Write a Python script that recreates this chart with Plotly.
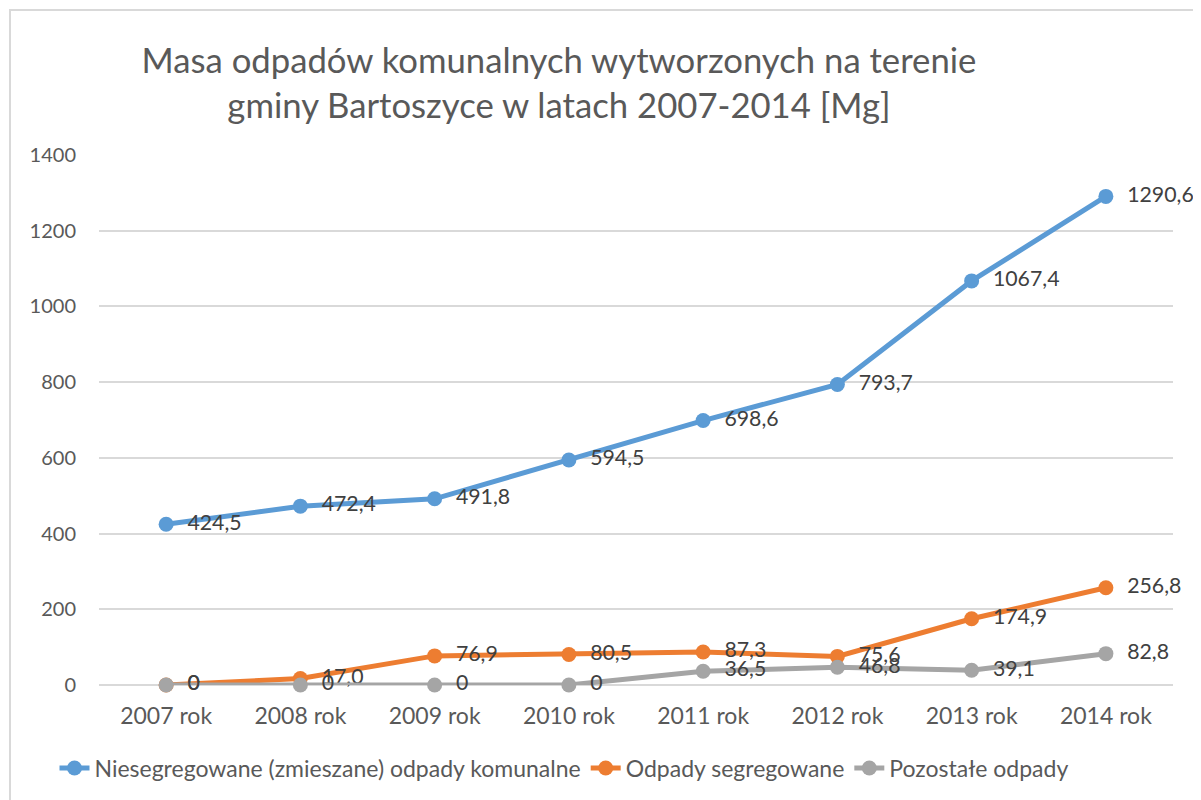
import plotly.graph_objects as go

categories = ["2007 rok", "2008 rok", "2009 rok", "2010 rok", "2011 rok", "2012 rok", "2013 rok", "2014 rok"]
niesegregowane = [424.5, 472.4, 491.8, 594.5, 698.6, 793.7, 1067.4, 1290.6]
segregowane = [0, 17.0, 76.9, 80.5, 87.3, 75.6, 174.9, 256.8]
pozostale = [0, 0, 0, 0, 36.5, 46.8, 39.1, 82.8]
names = ["Niesegregowane (zmieszane) odpady komunalne", "Odpady segregowane", "Pozostałe odpady"]
colors = ["#5B9BD5", "#ED7D31", "#A5A5A5"]


def fmt(v):
    if v == 0:
        s = "0"
    else:
        s = f"{v:.1f}".replace(".", ",")
    return "\u00a0\u00a0" + s


FONT = "Lato"
W, H = 1201, 800
L, R, T, B = 91, 36, 147, 123
PW, PH = W - L - R, H - T - B

fig = go.Figure()
for name, vals, col in zip(names, [niesegregowane, segregowane, pozostale], colors):
    fig.add_trace(go.Scatter(
        x=categories, y=vals, name=name, mode="lines+markers+text",
        line=dict(color=col, width=5),
        marker=dict(color=col, size=15),
        text=[fmt(v) for v in vals], textposition="middle right",
        textfont=dict(family=FONT, size=21.3, color="#404040"),
        cliponaxis=False,
    ))

fig.update_layout(
    width=W, height=H,
    paper_bgcolor="white", plot_bgcolor="white",
    margin=dict(l=L, r=R, t=T, b=B),
    title=dict(
        text="Masa odpadów komunalnych wytworzonych na terenie<br>gminy Bartoszyce w latach 2007-2014 [Mg]",
        x=551 / W, xanchor="center", xref="container",
        y=1 - 65 / H, yanchor="top", yref="container",
        font=dict(family=FONT, size=34.7, color="#595959"),
    ),
    font=dict(family=FONT, color="#595959"),
    xaxis=dict(
        type="category", range=[-0.5, 7.5], showgrid=False, automargin=False,
        showline=False, zeroline=False, ticks="outside", ticklen=10, tickcolor="rgba(0,0,0,0)",
        tickfont=dict(family=FONT, size=23, color="#595959"),
    ),
    yaxis=dict(
        range=[0, 1400], dtick=200, showgrid=True, gridcolor="#D9D9D9", gridwidth=1.5,
        zeroline=True, zerolinecolor="#D9D9D9", zerolinewidth=1.5, automargin=False,
        showline=False, ticks="outside", ticklen=18, tickcolor="rgba(0,0,0,0)",
        tickfont=dict(family=FONT, size=20, color="#595959"),
    ),
    legend=dict(
        orientation="h", x=556 / W, xanchor="center", xref="container",
        y=40 / H, yanchor="middle", yref="container",
        font=dict(family=FONT, size=23, color="#595959"),
        itemwidth=30,
    ),
    showlegend=True,
)

# chart frame (left and top edges visible)
fig.add_shape(type="rect", xref="paper", yref="paper",
              x0=(2 - L) / PW, x1=(W + 20 - L) / PW,
              y0=-(B + 20) / PH, y1=(PH + T - 2) / PH,
              line=dict(color="#D9D9D9", width=2), fillcolor="rgba(0,0,0,0)", layer="below")

fig.write_html("out.html")
